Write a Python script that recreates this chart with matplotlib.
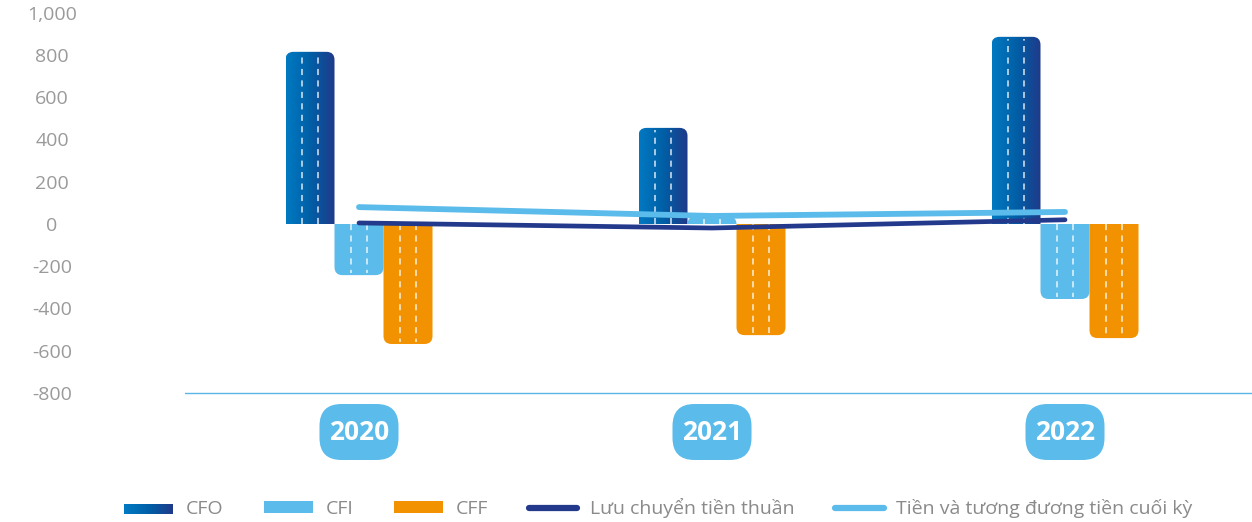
import numpy as np
import matplotlib
matplotlib.use("Agg")
import matplotlib.pyplot as plt
from matplotlib.path import Path
from matplotlib.patches import PathPatch, Rectangle
from matplotlib.lines import Line2D
from matplotlib.colors import LinearSegmentedColormap
from matplotlib.legend_handler import HandlerBase

plt.rcParams['font.family'] = ['Open Sans', 'DejaVu Sans']

# data (tỷ đồng)
years = ["2020", "2021", "2022"]
cfo = [815, 455, 886]
cfi = [-242, 35, -355]
cff = [-568, -526, -540]
luu_chuyen_thuan = [5, -19, 20]
tien_cuoi_ky = [80, 38, 57]

ytick_vals = list(range(-800, 1001, 200))
series_names = ["CFO", "CFI", "CFF", "Lưu chuyển tiền thuần", "Tiền và tương đương tiền cuối kỳ"]

C_CFO_L = "#0079c2"
C_CFO_R = "#1f3a8a"
C_CFI = "#5bbbea"
C_CFF = "#f39200"
C_NET = "#233a8c"
C_END = "#5bbbea"
C_TICK = "#9a9a9a"

W, H = 1252, 522
fig = plt.figure(figsize=(W / 100, H / 100), dpi=100)
ax = fig.add_axes([185 / W, 0, (W - 185) / W, 1])

# scale: px per data unit
kx = 353.0
ky = 169.0 / 800
xmin = -(359 - 185) / kx
xmax = xmin + (W - 185) / kx
ymax = 224 / ky
ymin = -(H - 224) / ky

grad_cmap = LinearSegmentedColormap.from_list("cfo", [C_CFO_L, "#005fa6", C_CFO_R])


def rounded_path(x0, x1, y0, y1, rx, ry, far_only=True):
    # y0 = base, y1 = far end; rounded corners at far end (and base if not far_only)
    s = 1 if y1 >= y0 else -1
    ry = min(ry, abs(y1 - y0) / (1 if far_only else 2))
    rx = min(rx, (x1 - x0) / 2)
    verts, codes = [], []
    if far_only:
        verts += [(x0, y0)]
        codes += [Path.MOVETO]
    else:
        verts += [(x0 + rx, y0), (x0, y0), (x0, y0 + s * ry)]
        codes += [Path.MOVETO, Path.CURVE3, Path.CURVE3]
    verts += [(x0, y1 - s * ry), (x0, y1), (x0 + rx, y1),
              (x1 - rx, y1), (x1, y1), (x1, y1 - s * ry)]
    codes += [Path.LINETO, Path.CURVE3, Path.CURVE3,
              Path.LINETO, Path.CURVE3, Path.CURVE3]
    if far_only:
        verts += [(x1, y0), (x0, y0)]
        codes += [Path.LINETO, Path.CLOSEPOLY]
    else:
        verts += [(x1, y0 + s * ry), (x1, y0), (x1 - rx, y0), (x0 + rx, y0)]
        codes += [Path.LINETO, Path.CURVE3, Path.CURVE3, Path.CLOSEPOLY]
    return Path(verts, codes)


bw = 49 / kx
rx = 8 / kx
ry = 8 / ky


def draw_bar(xc, h, color=None, gradient=False):
    x0, x1 = xc - bw / 2, xc + bw / 2
    path = rounded_path(x0, x1, 0, h, rx, ry)
    if gradient:
        patch = PathPatch(path, fc="none", ec="none")
        ax.add_patch(patch)
        im = ax.imshow(np.linspace(0, 1, 64)[None, :], cmap=grad_cmap,
                       extent=(x0, x1, min(0, h), max(0, h)), aspect="auto",
                       interpolation="bilinear", zorder=2)
        im.set_clip_path(patch)
    else:
        ax.add_patch(PathPatch(path, fc=color, ec="none", zorder=2))
    for f in (1 / 3, 2 / 3):
        ax.plot([x0 + f * (x1 - x0)] * 2, [0, h - np.sign(h) * 2 / ky], color="white",
                lw=1.1, alpha=0.85, ls=(0, (4, 3.5)), zorder=3)


x = np.arange(len(years))
for i in range(len(years)):
    draw_bar(x[i] - bw, cfo[i], gradient=True)
    draw_bar(x[i], cfi[i], color=C_CFI)
    draw_bar(x[i] + bw, cff[i], color=C_CFF)

ax.plot(x, tien_cuoi_ky, color=C_END, lw=4.2, solid_capstyle="round", zorder=5)
ax.plot(x, luu_chuyen_thuan, color=C_NET, lw=3.4, solid_capstyle="round", zorder=5)

ax.axhline(-800, color="#5bb5e4", lw=1.0, zorder=1)

# year pills
pw, ph = 79 / kx, 56 / ky
py = -(432 - 224) / ky
for i, yr in enumerate(years):
    p = rounded_path(x[i] - pw / 2, x[i] + pw / 2, py - ph / 2, py + ph / 2,
                     22 / kx, 22 / ky, far_only=False)
    ax.add_patch(PathPatch(p, fc=C_CFI, ec="none", zorder=2))
    ax.text(x[i], py, yr, ha="center", va="center", color="white",
            fontsize=19, fontweight="bold", zorder=3)

ax.set_xlim(xmin, xmax)
ax.set_ylim(ymin, ymax)
ax.set_xticks([])
ax.set_yticks(ytick_vals)
ax.set_yticklabels([f"{v:,}" for v in ytick_vals])
ax.tick_params(axis="y", length=0, pad=95.8, labelsize=14, labelcolor=C_TICK)
for lab in ax.get_yticklabels():
    lab.set_horizontalalignment("center")
for sp in ax.spines.values():
    sp.set_visible(False)
ax.patch.set_alpha(0)


class GradientHandler(HandlerBase):
    def create_artists(self, legend, orig, xd, yd, width, height, fontsize, trans):
        n = 24
        arts = []
        for k in range(n):
            r = Rectangle((xd + width * k / n, yd + height * 0.1), width / n + 0.3, height * 0.8,
                          fc=grad_cmap(k / (n - 1)), ec="none", transform=trans)
            arts.append(r)
        return arts


handles = [
    Rectangle((0, 0), 1, 1, fc=C_CFO_L),
    Rectangle((0, 0), 1, 1, fc=C_CFI, ec="none"),
    Rectangle((0, 0), 1, 1, fc=C_CFF, ec="none"),
    Line2D([], [], color=C_NET, lw=4.5, solid_capstyle="round"),
    Line2D([], [], color=C_END, lw=4.5, solid_capstyle="round"),
]
leg = fig.legend(handles, series_names, loc="center", bbox_to_anchor=(0.526, 0.027),
                 ncol=5, frameon=False, fontsize=14, labelcolor="#8a8a8a",
                 handlelength=2.5, handleheight=0.55, handletextpad=0.65,
                 columnspacing=2.1, handler_map={handles[0]: GradientHandler()})

fig.savefig("out.png", dpi=100)
